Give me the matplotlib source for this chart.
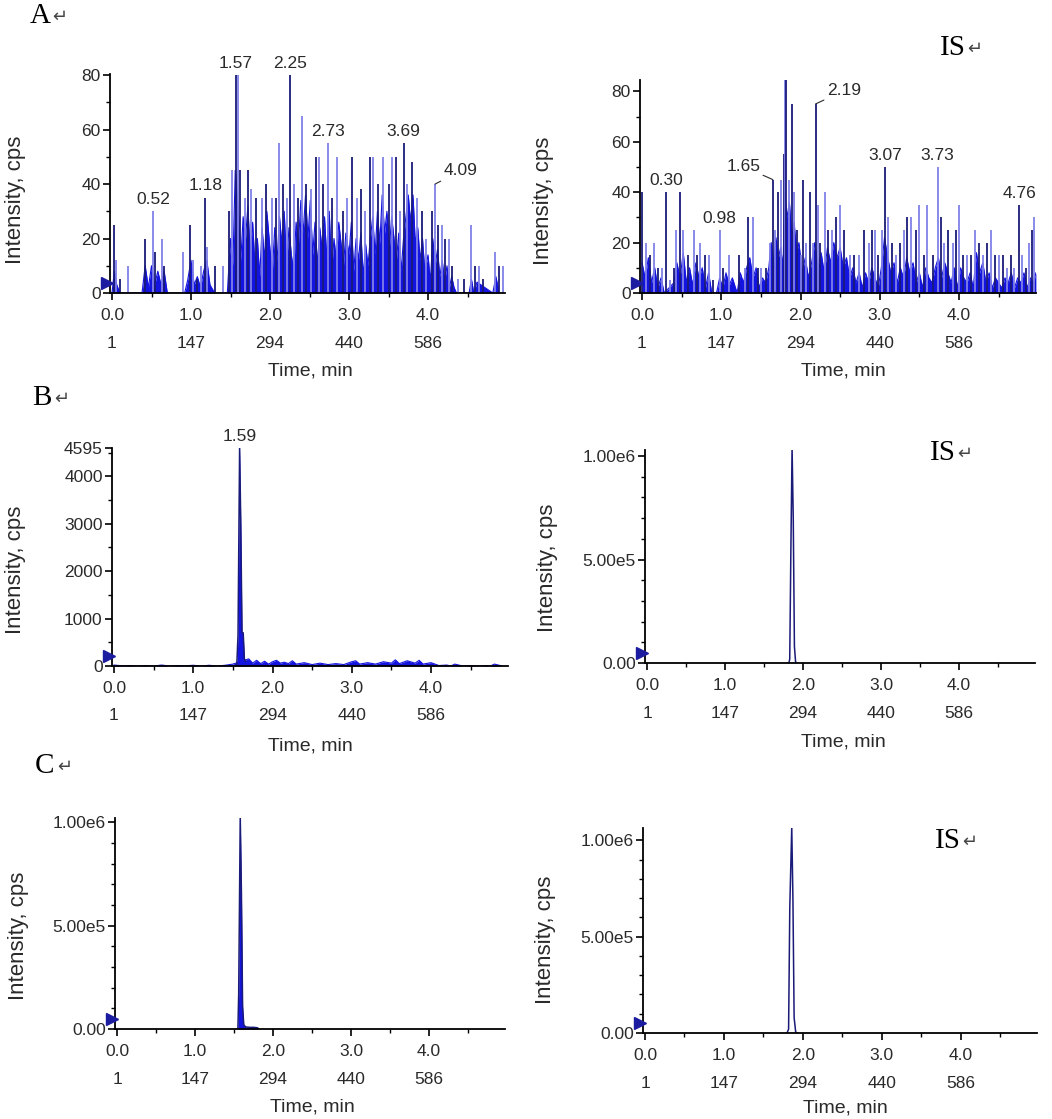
import matplotlib.pyplot as plt
from matplotlib.ticker import MultipleLocator

W, H = 1052, 1119
plt.rcParams['font.family'] = ['Liberation Sans', 'DejaVu Sans']

# ---------------- data (time in min, intensity in cps) ----------------
x_ticks = [0.0, 1.0, 2.0, 3.0, 4.0]
scan_labels = ['1', '147', '294', '440', '586']

# A: blank plasma, analyte channel
a1_spike_t = [0.02, 0.05, 0.10, 0.20, 0.42, 0.52, 0.55, 0.63, 0.66, 0.90, 0.99, 1.02,
              1.07, 1.13, 1.18, 1.20, 1.30, 1.40, 1.48, 1.52, 1.57, 1.59, 1.62, 1.68,
              1.72, 1.76, 1.82, 1.90, 1.95, 2.02, 2.07, 2.12, 2.16, 2.22, 2.25, 2.30,
              2.36, 2.41, 2.45, 2.52, 2.58, 2.62, 2.67, 2.73, 2.78, 2.85, 2.92, 2.97,
              3.04, 3.10, 3.15, 3.20, 3.27, 3.31, 3.37, 3.43, 3.50, 3.55, 3.60, 3.65,
              3.69, 3.73, 3.80, 3.86, 3.92, 3.98, 4.05, 4.09, 4.13, 4.18, 4.22, 4.27,
              4.30, 4.38, 4.45, 4.55, 4.60, 4.65, 4.70, 4.85, 4.90, 4.95]
a1_spike_y = [25, 12, 5, 10, 20, 30, 15, 20, 10, 15, 25, 12,
              5, 10, 35, 17, 10, 10, 30, 45, 80, 80, 45, 35,
              45, 38, 35, 35, 40, 35, 35, 55, 40, 35, 80, 40,
              35, 65, 40, 38, 50, 50, 40, 55, 35, 50, 30, 35,
              50, 35, 38, 30, 50, 50, 40, 50, 40, 50, 50, 30,
              55, 40, 48, 35, 30, 20, 30, 40, 25, 25, 20, 20,
              10, 5, 5, 25, 10, 10, 5, 15, 10, 10]
a1_body_t = [0.00, 0.03, 0.06, 0.10, 0.38, 0.42, 0.46, 0.50, 0.54, 0.58, 0.62, 0.66,
             0.70, 0.92, 0.96, 1.00, 1.04, 1.08, 1.12, 1.16, 1.20, 1.24, 1.30, 1.46,
             1.50, 1.53, 1.56, 1.60, 1.63, 1.66, 1.69, 1.72, 1.75, 1.78, 1.81, 1.84,
             1.87, 1.90, 1.93, 1.96, 2.00, 2.03, 2.06, 2.09, 2.12, 2.15, 2.18, 2.21,
             2.24, 2.27, 2.30, 2.33, 2.36, 2.39, 2.42, 2.45, 2.48, 2.51, 2.54, 2.57,
             2.60, 2.63, 2.66, 2.69, 2.72, 2.75, 2.78, 2.81, 2.84, 2.87, 2.90, 2.93,
             2.96, 3.00, 3.03, 3.06, 3.09, 3.12, 3.15, 3.18, 3.21, 3.24, 3.27, 3.30,
             3.33, 3.36, 3.39, 3.42, 3.45, 3.48, 3.51, 3.54, 3.57, 3.60, 3.63, 3.66,
             3.69, 3.72, 3.75, 3.78, 3.81, 3.84, 3.87, 3.90, 3.93, 3.96, 4.00, 4.03,
             4.06, 4.09, 4.12, 4.15, 4.18, 4.21, 4.24, 4.27, 4.30, 4.33, 4.36, 4.52,
             4.55, 4.58, 4.62, 4.82, 4.86, 4.90]
a1_body_y = [0, 8, 3, 0, 0, 10, 2, 10, 3, 8, 3, 8,
             0, 0, 5, 12, 3, 6, 2, 8, 12, 3, 0, 0,
             20, 10, 45, 30, 12, 28, 20, 32, 14, 26, 10, 20,
             6, 24, 12, 30, 16, 8, 24, 12, 28, 18, 30, 10,
             24, 14, 8, 26, 18, 34, 22, 36, 20, 34, 14, 26,
             10, 24, 16, 28, 12, 30, 8, 20, 12, 26, 18, 10,
             22, 14, 26, 8, 20, 12, 22, 6, 18, 10, 20, 28,
             14, 30, 18, 36, 22, 30, 16, 28, 20, 12, 22, 8,
             20, 28, 36, 26, 36, 18, 24, 12, 20, 8, 14, 4,
             20, 10, 16, 6, 12, 4, 10, 2, 6, 2, 0, 0,
             5, 0, 4, 0, 6, 0]
a1_labels = ['0.52', '1.18', '1.57', '2.25', '2.73', '3.69', '4.09']
a1_label_y = [30, 35, 80, 80, 55, 55, 40]

# A: blank plasma, IS channel
a2_spike_t = [0.00, 0.05, 0.10, 0.15, 0.20, 0.25, 0.30, 0.35, 0.40, 0.43, 0.48, 0.52,
              0.58, 0.65, 0.70, 0.73, 0.80, 0.85, 0.90, 0.98, 1.02, 1.10, 1.22, 1.30,
              1.34, 1.40, 1.46, 1.50, 1.56, 1.61, 1.65, 1.68, 1.72, 1.76, 1.79, 1.80,
              1.82, 1.85, 1.89, 1.92, 1.96, 2.00, 2.03, 2.07, 2.12, 2.16, 2.19, 2.22,
              2.25, 2.31, 2.35, 2.40, 2.45, 2.50, 2.55, 2.62, 2.68, 2.74, 2.80, 2.86,
              2.90, 2.94, 2.98, 3.03, 3.07, 3.10, 3.15, 3.20, 3.25, 3.30, 3.35, 3.40,
              3.46, 3.50, 3.56, 3.60, 3.67, 3.73, 3.77, 3.81, 3.86, 3.92, 3.96, 4.00,
              4.05, 4.10, 4.15, 4.20, 4.25, 4.30, 4.35, 4.40, 4.45, 4.50, 4.55, 4.60,
              4.66, 4.70, 4.76, 4.80, 4.84, 4.88, 4.92, 4.95]
a2_spike_y = [40, 20, 15, 20, 10, 10, 40, 5, 10, 25, 40, 25,
              15, 25, 15, 20, 15, 15, 5, 25, 10, 15, 15, 10,
              30, 30, 10, 10, 10, 20, 45, 25, 40, 45, 55, 85,
              85, 45, 75, 40, 25, 15, 45, 20, 40, 20, 75, 35,
              20, 40, 25, 25, 30, 35, 25, 15, 15, 15, 25, 20,
              25, 25, 15, 25, 50, 30, 20, 15, 20, 25, 30, 30,
              25, 35, 15, 35, 15, 50, 30, 20, 25, 20, 25, 35,
              15, 15, 15, 25, 20, 15, 20, 25, 15, 15, 15, 10,
              15, 10, 35, 15, 10, 20, 25, 30]
a2_body_t = [0.00, 0.04, 0.08, 0.12, 0.16, 0.20, 0.24, 0.28, 0.34, 0.40, 0.44, 0.48,
             0.52, 0.56, 0.60, 0.64, 0.68, 0.72, 0.76, 0.80, 0.84, 0.88, 0.94, 0.98,
             1.02, 1.06, 1.10, 1.14, 1.20, 1.24, 1.28, 1.32, 1.36, 1.40, 1.44, 1.48,
             1.52, 1.56, 1.60, 1.63, 1.66, 1.69, 1.72, 1.75, 1.78, 1.80, 1.83, 1.86,
             1.89, 1.92, 1.95, 1.98, 2.02, 2.06, 2.10, 2.14, 2.18, 2.22, 2.26, 2.30,
             2.34, 2.38, 2.42, 2.46, 2.50, 2.54, 2.58, 2.62, 2.66, 2.70, 2.74, 2.78,
             2.82, 2.86, 2.90, 2.94, 2.98, 3.02, 3.06, 3.10, 3.14, 3.18, 3.22, 3.26,
             3.30, 3.34, 3.38, 3.42, 3.46, 3.50, 3.54, 3.58, 3.62, 3.66, 3.70, 3.74,
             3.78, 3.82, 3.86, 3.90, 3.94, 3.98, 4.02, 4.06, 4.10, 4.14, 4.18, 4.22,
             4.26, 4.30, 4.34, 4.38, 4.42, 4.46, 4.50, 4.54, 4.58, 4.62, 4.66, 4.70,
             4.74, 4.78, 4.82, 4.86, 4.90, 4.94, 4.97]
a2_body_y = [12, 6, 14, 4, 10, 2, 6, 0, 2, 4, 12, 6,
             16, 4, 10, 3, 12, 6, 10, 2, 8, 0, 0, 6,
             2, 8, 3, 6, 0, 8, 4, 10, 14, 6, 10, 2,
             6, 4, 10, 20, 12, 22, 14, 18, 10, 40, 30, 36,
             22, 28, 16, 20, 8, 14, 6, 12, 20, 10, 16, 8,
             18, 12, 20, 14, 18, 10, 14, 6, 10, 4, 8, 2,
             8, 4, 10, 6, 2, 10, 22, 14, 8, 12, 4, 10,
             6, 14, 8, 12, 4, 8, 2, 10, 6, 4, 10, 14,
             6, 12, 8, 4, 10, 2, 10, 6, 4, 8, 2, 16,
             8, 12, 4, 8, 2, 6, 4, 2, 6, 4, 8, 2,
             6, 4, 8, 2, 6, 4, 8]
a2_labels = ['0.30', '0.98', '1.65', '1.80', '2.19', '3.07', '3.73', '4.76']
a2_label_y = [40, 25, 45, 85, 75, 50, 50, 35]

# B: LLOQ sample, analyte channel
b1_peak_t = [1.54, 1.55, 1.565, 1.585, 1.60, 1.615, 1.63, 1.645, 1.66]
b1_peak_y = [0, 50, 650, 4595, 2950, 700, 700, 150, 100]
b1_noise_t = [0.0, 0.1, 0.2, 0.3, 0.4, 0.5, 0.6, 0.7, 0.8, 0.9, 1.0, 1.1, 1.2, 1.3,
              1.4, 1.5, 1.70, 1.75, 1.80, 1.85, 1.90, 1.95, 2.00, 2.05, 2.10, 2.15,
              2.20, 2.25, 2.30, 2.40, 2.50, 2.60, 2.70, 2.80, 2.90, 3.00, 3.05, 3.10,
              3.20, 3.30, 3.40, 3.50, 3.55, 3.60, 3.70, 3.80, 3.85, 3.90, 4.00, 4.10,
              4.20, 4.25, 4.30, 4.40, 4.50, 4.60, 4.70, 4.75, 4.80, 4.90]
b1_noise_y = [20, 5, 10, 0, 10, 0, 20, 0, 10, 5, 15, 0, 15, 0,
              15, 40, 150, 60, 120, 50, 100, 40, 90, 120, 60, 80,
              50, 110, 40, 70, 30, 60, 30, 50, 30, 90, 110, 40,
              70, 40, 90, 60, 130, 50, 110, 60, 120, 40, 70, 10,
              20, 0, 40, 0, 10, 0, 10, 0, 40, 0]

# B: LLOQ sample, IS channel
b2_peak_t = [1.80, 1.82, 1.83, 1.845, 1.86, 1.875, 1.89, 1.905, 1.92]
b2_peak_y = [0, 0, 2.0e4, 5.6e5, 1.04e6, 7.0e5, 8.0e4, 5.0e3, 0]

# C: dosed sample, analyte channel
c1_peak_t = [1.54, 1.55, 1.56, 1.58, 1.595, 1.61, 1.625, 1.65, 1.70, 1.75, 1.80, 1.82]
c1_peak_y = [0, 0, 1.7e5, 1.03e6, 6.6e5, 1.1e5, 2.0e4, 1.0e4, 8.0e3, 8.0e3, 6.0e3, 0]

# C: dosed sample, IS channel
c2_peak_t = [1.80, 1.82, 1.835, 1.86, 1.875, 1.89, 1.91, 1.93]
c2_peak_y = [0, 2.0e4, 6.5e5, 1.07e6, 6.9e5, 8.0e4, 5.0e3, 0]

NAVY = '#1a1a78'
BLUE = '#1414e0'
LIGHT = '#8080e8'
TXT = '#2a2a2a'

fig = plt.figure(figsize=(W / 100, H / 100), dpi=100)


def make_axes(x0, scale, y0, ytop, ymax, yticks, yticklabels, yminor):
    # x0/scale: pixel of t=0 and pixels per minute; y0/ytop: pixel rows of ylim
    left = x0 - 0.02 * scale
    right = x0 + 4.97 * scale
    ax = fig.add_axes([left / W, 1 - y0 / H, (right - left) / W, (y0 - ytop) / H])
    ax.set_xlim(-0.02, 4.97)
    ax.set_ylim(0, ymax)
    for s in ['top', 'right']:
        ax.spines[s].set_visible(False)
    for s in ['left', 'bottom']:
        ax.spines[s].set_linewidth(1.3)
    ax.set_xticks(x_ticks)
    ax.set_xticklabels([f'{t:.1f}' for t in x_ticks])
    ax.xaxis.set_minor_locator(MultipleLocator(0.5))
    ax.set_yticks(yticks)
    ax.set_yticklabels(yticklabels)
    ax.yaxis.set_minor_locator(MultipleLocator(yminor))
    ax.tick_params(which='major', direction='out', length=5, width=1.2,
                   labelsize=12.5, labelcolor=TXT, pad=2)
    ax.tick_params(axis='x', which='major', pad=6)
    ax.tick_params(which='minor', direction='out', length=3, width=1.0)
    # scan-number row under the time labels
    for t, s in zip(x_ticks, scan_labels):
        ax.annotate(s, xy=(t, 0), xycoords=('data', 'axes fraction'),
                    xytext=(0, -36), textcoords='offset points',
                    ha='center', va='center', fontsize=12.5, color=TXT,
                    annotation_clip=False)
    # start marker at the left edge
    h = y0 - ytop
    ax.plot([-3 / (right - left)], [10 / h], transform=ax.transAxes, marker='>',
            ms=9, color='#1c1ca0', clip_on=False, zorder=5)
    return ax


def draw_noise(ax, body_t, body_y, spike_t, spike_y):
    ax.fill_between(body_t, body_y, color=BLUE, lw=0)
    ax.plot(body_t, body_y, color=BLUE, lw=0.8)
    cols = [NAVY if i % 2 == 0 else LIGHT for i in range(len(spike_t))]
    ax.vlines(spike_t, 0, spike_y, colors=cols, lw=1.3)


def draw_peak(ax, t, y, fill):
    if fill:
        ax.fill_between(t, y, color=BLUE, lw=0)
    ax.plot(t, y, color=NAVY, lw=1.1)


def label_peaks(ax, labels, heights, leaders=None):
    leaders = leaders or {}
    for lab, hgt in zip(labels, heights):
        if lab in leaders:
            dx, ha = leaders[lab]
            ax.annotate(lab, xy=(float(lab), hgt), xytext=(dx, 4), textcoords='offset points',
                        ha=ha, va='bottom', fontsize=12.5, color=TXT,
                        arrowprops=dict(arrowstyle='-', color=TXT, lw=0.8,
                                        shrinkA=0, shrinkB=0))
        else:
            ax.annotate(lab, xy=(float(lab), hgt), xytext=(0, 3), textcoords='offset points',
                        ha='center', va='bottom', fontsize=12.5, color=TXT)


def px_text(x, y, s, **kw):
    fig.text(x / W, 1 - y / H, s, **kw)


# ---- A ----
ax = make_axes(112, 79.0, 293, 74, 80.4, [0, 20, 40, 60, 80],
               ['0', '20', '40', '60', '80'], 10)
draw_noise(ax, a1_body_t, a1_body_y, a1_spike_t, a1_spike_y)
label_peaks(ax, a1_labels, a1_label_y, {'4.09': (6, 'left')})

ax = make_axes(642, 79.25, 293, 80, 84.5, [0, 20, 40, 60, 80],
               ['0', '20', '40', '60', '80'], 10)
draw_noise(ax, a2_body_t, a2_body_y, a2_spike_t, a2_spike_y)
label_peaks(ax, a2_labels, a2_label_y, {'1.65': (-9, 'right'), '2.19': (8, 'left')})

# ---- B ----
ax = make_axes(114, 79.25, 666, 448, 4595, [0, 1000, 2000, 3000, 4000, 4595],
               ['0', '1000', '2000', '3000', '4000', '4595'], 500)
ax.fill_between(b1_noise_t, b1_noise_y, color=BLUE, lw=0)
ax.plot(b1_noise_t, b1_noise_y, color=BLUE, lw=0.8)
draw_peak(ax, b1_peak_t, b1_peak_y, True)
label_peaks(ax, ['1.59'], [4595])

ax = make_axes(647, 78.0, 663, 450, 1.029e6, [0, 5e5, 1e6],
               ['0.00', '5.00e5', '1.00e6'], 1e5)
draw_peak(ax, b2_peak_t, b2_peak_y, False)
label_peaks(ax, ['1.86'], [1.04e6])

# ---- C ----
ax = make_axes(117, 78.0, 1029, 818, 1.021e6, [0, 5e5, 1e6],
               ['0.00', '5.00e5', '1.00e6'], 1e5)
draw_peak(ax, c1_peak_t, c1_peak_y, True)
label_peaks(ax, ['1.59'], [1.03e6])

ax = make_axes(645, 78.9, 1033, 828, 1.064e6, [0, 5e5, 1e6],
               ['0.00', '5.00e5', '1.00e6'], 1e5)
draw_peak(ax, c2_peak_t, c2_peak_y, False)
label_peaks(ax, ['1.86'], [1.07e6])

# axis titles
for x, y in [(16, 200), (543, 201), (16, 570), (547, 568), (19, 936), (546, 940)]:
    px_text(x, y, 'Intensity, cps', rotation=90, ha='center', va='center',
            fontsize=16, color=TXT)
for x, y in [(310, 371), (843, 371), (310, 746), (843, 742), (312, 1107), (845, 1108)]:
    px_text(x, y, 'Time, min', ha='center', va='center', fontsize=14, color=TXT)

# panel letters and IS tags
serif = ['Liberation Serif', 'DejaVu Serif']
for x, y, s in [(30, 23, 'A'), (32, 405, 'B'), (35, 773, 'C'),
                (940, 55, 'IS'), (930, 460, 'IS'), (935, 848, 'IS')]:
    px_text(x, y, s, ha='left', va='baseline', fontsize=21, family=serif, color='black')
    px_text(x + (22 if len(s) == 1 else 27), y - 1, '\u21b5', ha='left', va='baseline',
            fontsize=13, family=['DejaVu Sans'], color='#444444')

fig.savefig('out.png', dpi=100)
